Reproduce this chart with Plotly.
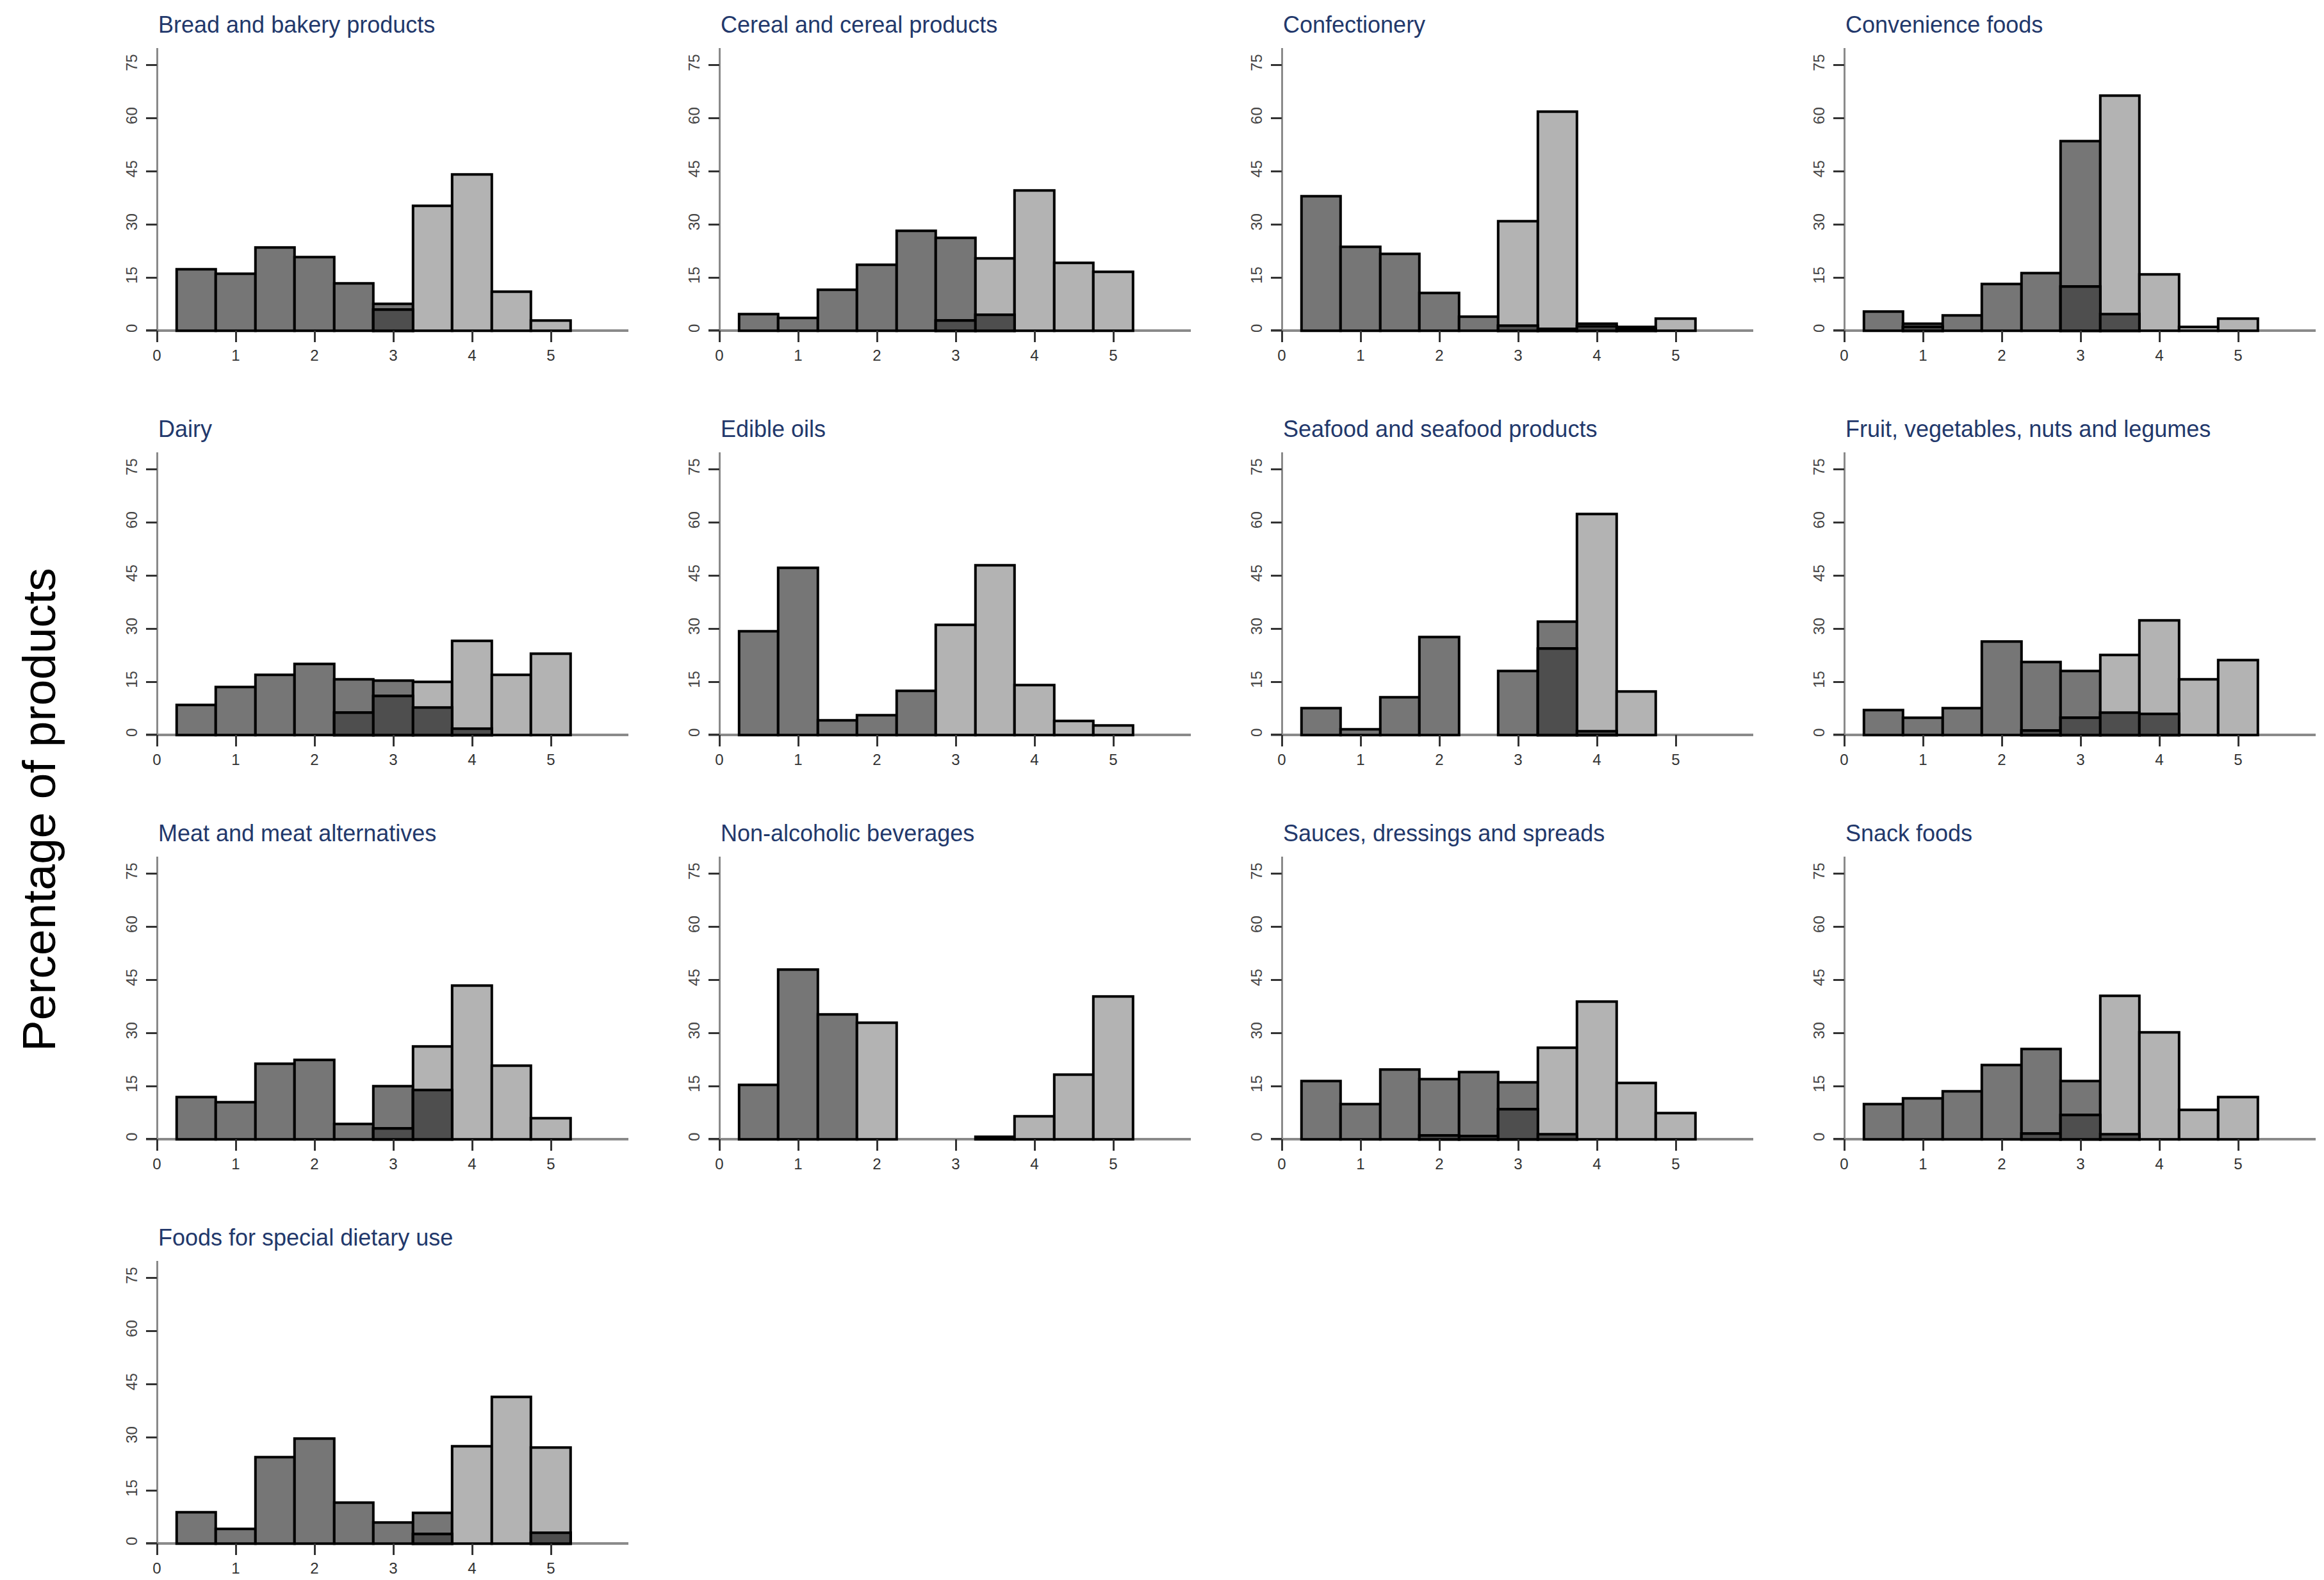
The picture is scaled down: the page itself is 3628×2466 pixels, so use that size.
import plotly.graph_objects as go

W, H = 3628, 2466

ratings = [0.5, 1.0, 1.5, 2.0, 2.5, 3.0, 3.5, 4.0, 4.5, 5.0]

categories = [
    "Bread and bakery products",
    "Cereal and cereal products",
    "Confectionery",
    "Convenience foods",
    "Dairy",
    "Edible oils",
    "Seafood and seafood products",
    "Fruit, vegetables, nuts and legumes",
    "Meat and meat alternatives",
    "Non-alcoholic beverages",
    "Sauces, dressings and spreads",
    "Snack foods",
    "Foods for special dietary use",
]

N = None
# percentage of products per rating, dark grey group
dark_pct = [
    [17.4, 16.0, 23.4, 20.7, 13.3, 7.5, N, N, N, N],
    [4.7, 3.5, 11.6, 18.6, 28.1, 26.2, 4.4, N, N, N],
    [37.9, 23.7, 21.6, 10.7, 4.0, 1.4, 0.5, 1.2, 0.5, N],
    [5.4, 2.0, 4.3, 13.1, 16.3, 53.4, 4.7, N, N, N],
    [8.4, 13.6, 16.9, 20.0, 15.6, 15.4, 7.7, 1.7, N, N],
    [29.3, 47.2, 4.2, 5.6, 12.5, N, N, N, N, N],
    [7.5, 1.5, 10.6, 27.7, N, 18.0, 32.0, 1.0, N, N],
    [7.0, 4.8, 7.5, 26.4, 20.6, 18.0, 6.3, 5.9, N, N],
    [11.9, 10.4, 21.3, 22.4, 4.3, 14.9, 13.9, N, N, N],
    [15.4, 47.8, 35.3, N, N, N, N, N, N, N],
    [16.4, 9.9, 19.6, 17.0, 19.0, 16.1, 1.4, N, N, N],
    [9.9, 11.6, 13.6, 20.9, 25.5, 16.4, 1.4, N, N, N],
    [8.8, 4.1, 24.3, 29.7, 11.5, 5.9, 8.6, N, N, 3.0],
]
# percentage of products per rating, light grey group
light_pct = [
    [N, N, N, N, N, 6.0, 35.3, 44.0, 11.0, 2.8],
    [N, N, N, N, N, 2.8, 20.4, 39.5, 19.1, 16.6],
    [N, N, N, N, N, 30.8, 61.8, 2.0, 1.0, 3.3],
    [N, 1.0, N, N, N, 12.4, 66.4, 15.9, 1.0, 3.3],
    [N, N, N, N, 6.3, 11.0, 14.9, 26.6, 17.0, 23.0],
    [N, N, N, N, N, 31.1, 47.8, 14.1, 4.0, 2.6],
    [N, N, N, N, N, N, 24.4, 62.4, 12.3, N],
    [N, N, N, N, 1.3, 4.8, 22.5, 32.3, 15.6, 21.1],
    [N, N, N, N, N, 3.0, 26.2, 43.4, 20.7, 5.9],
    [N, N, N, 32.9, N, N, 0.6, 6.4, 18.3, 40.2],
    [N, N, N, 1.0, 0.8, 8.5, 25.9, 38.9, 15.9, 7.4],
    [N, N, N, N, 1.6, 6.8, 40.4, 30.2, 8.3, 11.9],
    [N, N, N, N, N, N, 2.7, 27.5, 41.4, 27.0],
]

y_ticks = [0, 15, 30, 45, 60, 75]
x_ticks = [0, 1, 2, 3, 4, 5]

DARK = "#767676"
LIGHT = "#b3b3b3"
BOTH = "#4e4e4e"
FONT = "Arial, Liberation Sans, sans-serif"

fig = go.Figure()

# panel geometry in pixels
col_x0 = 237      # x=0 of first column
col_step = 878
row_zero = 508    # y=0 of first row
row_step = 631
px_per_x = 123
px_per_y = 5.53
x_range = [-0.14, 5.98]
y_range = [-3.3, 79.7]

for i, cat in enumerate(categories):
    r, c = divmod(i, 4)
    n = i + 1
    xa = "x" if n == 1 else f"x{n}"
    ya = "y" if n == 1 else f"y{n}"

    x0 = col_x0 + c * col_step
    left = x0 + x_range[0] * px_per_x
    right = x0 + x_range[1] * px_per_x
    zero = row_zero + r * row_step
    top = zero - y_range[1] * px_per_y
    bottom = zero - y_range[0] * px_per_y

    both = [min(a, b) if (a and b) else None for a, b in zip(dark_pct[i], light_pct[i])]

    for vals, col in [(dark_pct[i], DARK), (light_pct[i], LIGHT), (both, BOTH)]:
        fig.add_trace(go.Bar(
            x=ratings, y=vals, width=0.5,
            marker=dict(color=col, line=dict(color="black", width=4)),
            xaxis=xa, yaxis=ya, showlegend=False, hoverinfo="x+y",
        ))

    fig.layout[xa.replace("x", "xaxis", 1)] = dict(
        domain=[left / W, right / W], anchor=ya, range=x_range,
        tickmode="array", tickvals=x_ticks, ticks="inside",
        ticklen=18, tickwidth=2.5, tickcolor="#333333",
        showgrid=False, showline=False,
        zeroline=True, zerolinecolor="#8a8a8a", zerolinewidth=3,
        tickfont=dict(family=FONT, size=24, color="#333333"),
        ticklabelstandoff=4,
    )
    fig.layout[ya.replace("y", "yaxis", 1)] = dict(
        domain=[1 - bottom / H, 1 - top / H], anchor=xa, range=y_range,
        tickmode="array", tickvals=y_ticks, ticks="inside",
        ticklen=17, tickwidth=3, tickcolor="#333333", tickangle=-90,
        showgrid=False, showline=False,
        zeroline=True, zerolinecolor="#8a8a8a", zerolinewidth=4,
        tickfont=dict(family=FONT, size=24, color="#444444"),
        ticklabelstandoff=8,
    )

    fig.add_annotation(
        text=cat, xref="paper", yref="paper",
        x=x0 / W, y=1 - (top - 37) / H,
        xanchor="left", yanchor="middle", showarrow=False,
        font=dict(family=FONT, size=36, color="#22386b"),
    )

fig.add_annotation(
    text="Percentage of products", xref="paper", yref="paper",
    x=52 / W, y=1 - 1256 / H, textangle=-90,
    xanchor="center", yanchor="middle", showarrow=False,
    font=dict(family=FONT, size=73, color="black"),
)

fig.update_layout(
    width=W, height=H, barmode="overlay", bargap=0,
    margin=dict(l=0, r=0, t=0, b=0),
    plot_bgcolor="white", paper_bgcolor="white",
)

fig.write_html("out.html")
